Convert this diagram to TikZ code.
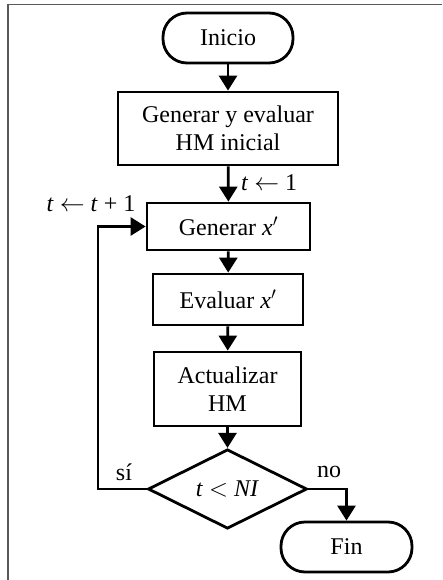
\documentclass[tikz,border=0pt]{standalone}
\usepackage{fontspec}
\setmainfont{Liberation Serif}
\usetikzlibrary{shapes.geometric,arrows.meta}
\begin{document}
\begin{tikzpicture}[x=1pt,y=-1pt,
  every node/.style={font=\fontsize{24}{28}\selectfont},
  flowbox/.style={draw,line width=2.8pt,rectangle,align=center,inner sep=0pt},
  terminal/.style={draw,line width=2.8pt,rectangle,rounded corners=24pt,inner sep=0pt},
  decision/.style={draw,line width=2.8pt,diamond,inner sep=0pt},
  flow/.style={line width=2.8pt,-{Triangle[length=15pt,width=18pt]}},
  lbl/.style={inner sep=0pt}]
\useasboundingbox (0,0) rectangle (442,580);
% frame lines
\draw[line width=1.6pt,color=black!65] (8,580) -- (8,4.5) -- (442,4.5);

\node[terminal,minimum width=130pt,minimum height=50pt] (inicio) at (228,38) {Inicio};
\node[flowbox,minimum width=220pt,minimum height=73pt] (gen) at (228,128.5) {Generar y evaluar\\HM inicial};
\node[flowbox,minimum width=163pt,minimum height=47pt] (genx) at (228.5,226.5) {Generar \textit{x}$'$};
\node[flowbox,minimum width=150pt,minimum height=51pt] (eval) at (228,299.5) {Evaluar \textit{x}$'$};
\node[flowbox,minimum width=147pt,minimum height=74pt] (act) at (227.5,389) {Actualizar\\HM};
\node[decision,minimum width=159pt,minimum height=72pt] (dec) at (227.5,489) {\textit{t} $<$ \textit{NI}};
\node[terminal,minimum width=131pt,minimum height=50pt] (fin) at (346.5,547) {Fin};

\coordinate (loop) at (98,489);

\draw[flow] (inicio) -- (gen);
\draw[flow] (gen) -- (genx);
\draw[flow] (genx) -- (eval);
\draw[flow] (eval) -- (act);
\draw[flow] (act) -- (dec);
\draw[flow] (dec.west) -- (loop) |- (genx.west);
\draw[flow] (dec.east) -| (fin.north);

\node[lbl,anchor=west] (t1) at (241,183) {\textit{t} $\leftarrow$ 1};
\node[lbl] (tinc) at (91,204) {\textit{t} $\leftarrow$ \textit{t} + 1};
\node[lbl] (si) at (124,472) {sí};
\node[lbl] (no) at (329,472) {no};
\end{tikzpicture}
\end{document}
